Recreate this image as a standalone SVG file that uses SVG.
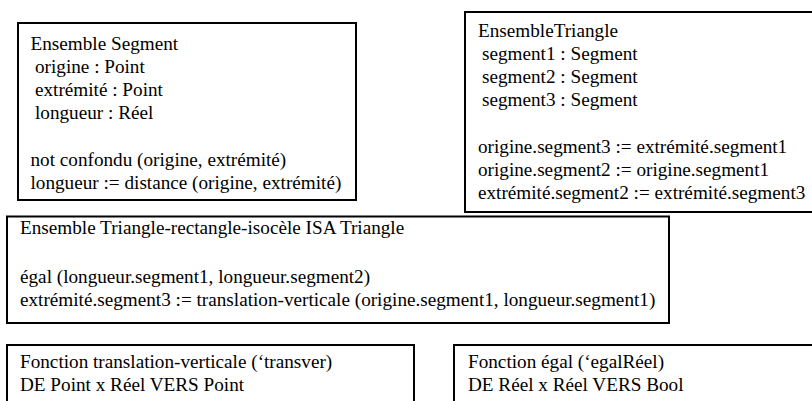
<svg xmlns="http://www.w3.org/2000/svg" width="812" height="401" viewBox="0 0 812 401">
<style>
.box{fill:#fff;stroke:#000;stroke-width:2}
</style>
<rect width="812" height="401" fill="#fff"/>
<g font-family="Liberation Serif, Times New Roman, Tinos, DejaVu Serif, serif" font-size="19.2" fill="#000">
<g id="ensemble-segment">
<rect class="box" x="18" y="23" width="338" height="177"/>
<text x="30.5" y="50">Ensemble Segment</text>
<text x="35" y="73">origine : Point</text>
<text x="35" y="96">extrémité : Point</text>
<text x="35" y="119">longueur : Réel</text>
<text x="30.5" y="166">not confondu (origine, extrémité)</text>
<text x="30.5" y="189">longueur := distance (origine, extrémité)</text>
</g>
<g id="ensemble-triangle">
<rect class="box" x="465" y="12" width="360" height="200"/>
<text x="478" y="37">EnsembleTriangle</text>
<text x="482" y="60">segment1 : Segment</text>
<text x="482" y="83">segment2 : Segment</text>
<text x="482" y="106">segment3 : Segment</text>
<text x="478" y="153">origine.segment3 := extrémité.segment1</text>
<text x="478" y="176">origine.segment2 := origine.segment1</text>
<text x="478" y="199">extrémité.segment2 := extrémité.segment3</text>
</g>
<g id="triangle-rectangle-isocele">
<rect class="box" x="7" y="216.5" width="662" height="106.5"/>
<text x="20" y="234">Ensemble Triangle-rectangle-isocèle ISA Triangle</text>
<text x="20" y="283">égal (longueur.segment1, longueur.segment2)</text>
<text x="20" y="306">extrémité.segment3 := translation-verticale (origine.segment1, longueur.segment1)</text>
</g>
<g id="fonction-translation-verticale">
<rect class="box" x="7" y="345" width="407" height="80"/>
<text x="20" y="368">Fonction translation-verticale (‘transver)</text>
<text x="20" y="391">DE Point x Réel VERS Point</text>
</g>
<g id="fonction-egal">
<rect class="box" x="454" y="345" width="380" height="80"/>
<text x="468" y="368">Fonction égal (‘egalRéel)</text>
<text x="468" y="391">DE Réel x Réel VERS Bool</text>
</g>
</g>
<g id="connectors"></g>
</svg>
